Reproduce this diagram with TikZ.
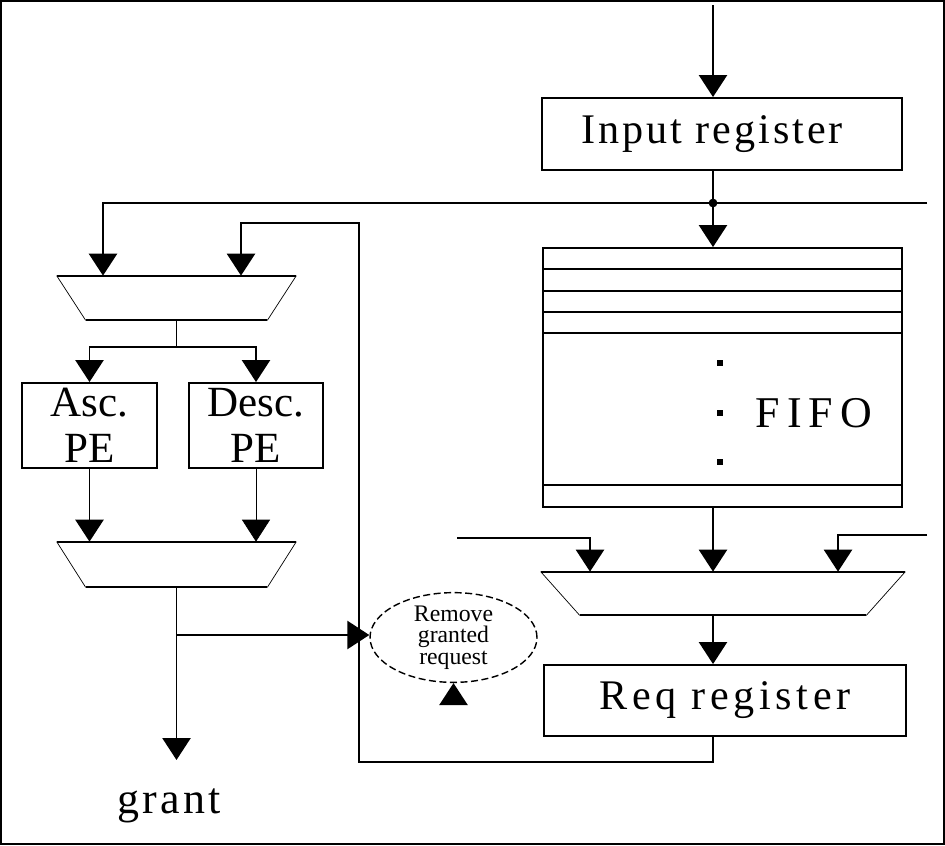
\documentclass[tikz,border=0pt]{standalone}
\usepackage{fontspec}
\setmainfont{Liberation Serif}
\newfontfamily\wide[LetterSpace=7]{Liberation Serif}
\newfontfamily\wideq[LetterSpace=11]{Liberation Serif}
\newfontfamily\wider[LetterSpace=16]{Liberation Serif}
\usetikzlibrary{calc,arrows.meta,shapes.geometric}

\tikzset{
  wire/.style={line width=1.1pt},
  feed/.style={wire,-{Triangle[width=16pt,length=12.5pt]}},
  reg/.style={rectangle,draw=black,line width=1.1pt,minimum width=7.2cm,minimum height=1.44cm,font=\wide\fontsize{24}{26}\selectfont},
  pe/.style={rectangle,draw=black,line width=1.1pt,minimum width=2.7cm,minimum height=1.7cm,align=center,inner sep=0pt,font=\fontsize{24.5}{26}\selectfont},
  mux/.style={rectangle,inner sep=0pt,minimum width=4.78cm,minimum height=0.88cm},
}

\begin{document}
\begin{tikzpicture}[x=0.02cm,y=-0.02cm]
      \useasboundingbox (0,0) rectangle (945,845);
      \draw[line width=1pt] (1,1) rectangle (944,844);
      % right column
      \node (inreg) [reg,text width=6.9cm] at (722,134) {\hspace*{0.63cm}Input register};
      \node (fifo) [rectangle,draw=black,line width=1.1pt,minimum width=7.18cm,minimum height=5.18cm] at (722.5,377.5) {};
      \node (fifolbl) [font=\wider\fontsize{25}{27}\selectfont] at (814,413) {FIFO};
      \node (muxC) [mux,minimum width=7.28cm,minimum height=0.86cm] at (723,593.5) {};
      \node (reqreg) [reg,minimum width=7.24cm,minimum height=1.42cm,font=\wideq\fontsize{24}{26}\selectfont] at (725,700.5) {Req register};
      % left column
      \node (muxA) [mux] at (176.5,298) {};
      \node (asc) [pe] at (89.5,425.5) {Asc.\\PE};
      \node (desc) [pe,minimum width=2.68cm] at (256,425.5) {Desc.\\PE};
      \node (muxB) [mux,minimum height=0.9cm] at (176.5,564.5) {};
      \node (grant) [anchor=base,font=\wide\fontsize{25}{27}\selectfont] at (169,813) {grant};
      \node (remove) [ellipse,draw=black,line width=0.8pt,dash pattern=on 4pt off 2pt,inner sep=0pt,minimum width=3.34cm,minimum height=1.78cm,align=center,font=\fontsize{13.5}{12.2}\selectfont] at (453.5,637.5) {Remove\\granted\\request};

      \foreach \m/\d in {muxA/29,muxB/29,muxC/39}{
        \draw[wire] (\m.north west) -- (\m.north east);
        \draw[wire] ($(\m.south east)+(-\d,0)$) -- ($(\m.south west)+(\d,0)$);
        \draw (\m.north west) -- ($(\m.south west)+(\d,0)$);
        \draw (\m.north east) -- ($(\m.south east)+(-\d,0)$);
      }
      \foreach \y in {22,44,65,86,238}{
        \draw[wire] ($(fifo.north west)+(0,\y)$) -- ($(fifo.north east)+(0,\y)$);
      }
      \foreach \y in {363,413,462}{
        \fill (720,\y) ++(-3,-3) rectangle ++(6,6);
      }

      \coordinate (in) at (713,5);
      \coordinate (split) at (713,203);
      \coordinate (busL) at (103,203);
      \coordinate (busR) at (927,203);
      \coordinate (fbB) at (359,762);
      \coordinate (fbT) at (359,223);
      \coordinate (c2) at (241,223);
      \coordinate (fork) at (176.5,347);
      \coordinate (tap) at (176.5,635);
      \coordinate (gout) at (176.5,760);
      \coordinate (ack) at (453.5,704);
      \coordinate (lin) at (457,538);
      \coordinate (c3) at (590,538);
      \coordinate (rin) at (927,535);
      \coordinate (c4) at (838,535);

      \draw[feed] (in) -- (inreg.north -| in);
      \draw[wire] (inreg.south -| in) -- (split);
      \draw[feed] (split) -- (fifo.north -| split);
      \fill (split) circle (2.5pt);
      \draw[feed] (busR) -- (busL) -- (muxA.north -| busL);
      \draw[feed] (reqreg.south -| in) |- (fbB) -- (fbT) -| (muxA.north -| c2);
      \draw[thin] (muxA.south) -- (fork);
      \draw[feed] (fork) -| (asc.north);
      \draw[feed] (fork) -| (desc.north);
      \draw[feed] (asc.south) -- (asc.south |- muxB.north);
      \draw[feed,thin] (desc.south) -- (desc.south |- muxB.north);
      \draw[feed] (muxB.south) -- (gout);
      \draw[feed] (tap) -- (tap -| remove.west);
      \draw[feed] (ack) -- (remove.south);
      \draw[feed] (lin) -- (c3) -- (muxC.north -| c3);
      \draw[feed] (rin) -- (c4) -- (muxC.north -| c4);
      \draw[feed] (fifo.south -| in) -- (muxC.north -| in);
      \draw[feed] (muxC.south -| in) -- (reqreg.north -| in);
\end{tikzpicture}
\end{document}
